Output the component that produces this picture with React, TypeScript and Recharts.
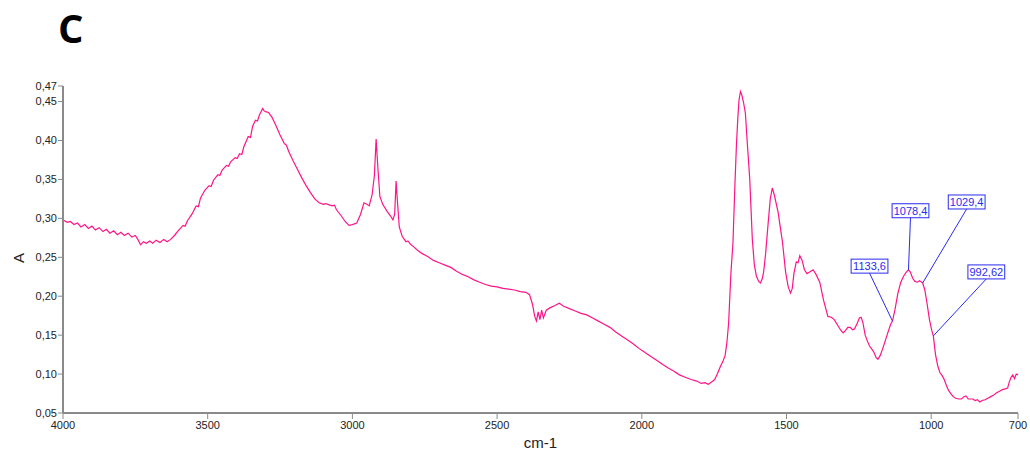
import React from "react";
import {
  LineChart, Line, XAxis, YAxis, ReferenceDot,
} from "recharts";

const WAVENUMBERS = [
  4000, 3985, 3975, 3962, 3950, 3938, 3925, 3912, 3900, 3888, 3875, 3862, 3850, 3838, 3825, 3812,
  3800, 3788, 3775, 3762, 3750, 3740, 3732, 3722, 3712, 3700, 3690, 3678, 3665, 3652, 3640, 3628,
  3615, 3600, 3585, 3578, 3570, 3555, 3540, 3532, 3525, 3510, 3495, 3488, 3480, 3465, 3458, 3450,
  3435, 3428, 3420, 3405, 3398, 3390, 3382, 3375, 3360, 3352, 3345, 3335, 3328, 3322, 3310, 3305,
  3300, 3290, 3284, 3278, 3265, 3250, 3235, 3228, 3220, 3205, 3190, 3175, 3160, 3145, 3130, 3115,
  3100, 3092, 3085, 3070, 3062, 3055, 3040, 3025, 3012, 3000, 2985, 2972, 2960, 2950, 2942, 2932,
  2924, 2918, 2912, 2905, 2895, 2880, 2868, 2860, 2854, 2849, 2845, 2838, 2828, 2815, 2808, 2800,
  2790, 2775, 2760, 2740, 2720, 2700, 2680, 2660, 2640, 2620, 2600, 2580, 2560, 2540, 2520, 2500,
  2480, 2460, 2440, 2420, 2400, 2388, 2378, 2370, 2364, 2358, 2352, 2346, 2340, 2330, 2318, 2300,
  2285, 2270, 2250, 2230, 2210, 2190, 2170, 2150, 2130, 2110, 2090, 2070, 2050, 2030, 2010, 1990,
  1970, 1950, 1930, 1910, 1890, 1870, 1850, 1830, 1810, 1795, 1782, 1770, 1758, 1748, 1738, 1728,
  1720, 1712, 1706, 1700, 1692, 1685, 1678, 1673, 1668, 1664, 1659, 1654, 1648, 1642, 1636, 1627,
  1618, 1611, 1604, 1596, 1590, 1584, 1579, 1572, 1564, 1556, 1549, 1542, 1529, 1522, 1514, 1503,
  1494, 1486, 1480, 1474, 1466, 1460, 1454, 1446, 1438, 1429, 1420, 1408, 1398, 1385, 1372, 1357,
  1345, 1335, 1322, 1312, 1304, 1296, 1288, 1280, 1272, 1265, 1256, 1248, 1242, 1236, 1228, 1220,
  1213, 1205, 1198, 1190, 1184, 1176, 1168, 1161, 1150, 1140, 1133.6, 1125, 1115, 1105, 1095, 1086,
  1078.4, 1072, 1064, 1056, 1048, 1040, 1029.4, 1022, 1014, 1006, 998, 992.62, 985, 977, 970, 962,
  955, 947, 940, 932, 924, 915, 905, 895, 887, 880, 872, 864, 856, 848, 840, 832,
  824, 814, 804, 794, 784, 774, 764, 754, 744, 736, 730, 724, 718, 712, 706, 700,
];

// absorbance at each wavenumber above
const ABSORBANCE = [
  0.298, 0.295, 0.296, 0.292, 0.294, 0.289, 0.292, 0.287, 0.290, 0.285, 0.288, 0.283, 0.286, 0.281, 0.284, 0.279,
  0.282, 0.278, 0.281, 0.276, 0.278, 0.272, 0.266, 0.270, 0.268, 0.271, 0.268, 0.272, 0.269, 0.273, 0.270, 0.273,
  0.278, 0.285, 0.291, 0.290, 0.297, 0.305, 0.316, 0.315, 0.326, 0.336, 0.342, 0.341, 0.349, 0.356, 0.355, 0.362,
  0.368, 0.367, 0.373, 0.378, 0.377, 0.383, 0.382, 0.392, 0.405, 0.404, 0.418, 0.426, 0.425, 0.432, 0.441, 0.438,
  0.437, 0.436, 0.433, 0.430, 0.420, 0.407, 0.396, 0.394, 0.386, 0.374, 0.363, 0.352, 0.342, 0.333, 0.325, 0.320,
  0.318, 0.319, 0.318, 0.316, 0.317, 0.311, 0.304, 0.296, 0.291, 0.292, 0.294, 0.305, 0.320, 0.318, 0.316, 0.330,
  0.355, 0.402, 0.365, 0.328, 0.318, 0.309, 0.303, 0.298, 0.305, 0.348, 0.325, 0.289, 0.277, 0.270, 0.271, 0.267,
  0.264, 0.259, 0.255, 0.251, 0.246, 0.243, 0.240, 0.237, 0.232, 0.228, 0.225, 0.221, 0.218, 0.215, 0.213, 0.212,
  0.210, 0.209, 0.208, 0.206, 0.205, 0.202, 0.190, 0.174, 0.168, 0.180, 0.170, 0.182, 0.172, 0.182, 0.185, 0.188,
  0.191, 0.187, 0.184, 0.181, 0.178, 0.176, 0.172, 0.168, 0.164, 0.160, 0.154, 0.149, 0.144, 0.139, 0.133, 0.128,
  0.123, 0.118, 0.113, 0.108, 0.104, 0.099, 0.096, 0.093, 0.091, 0.088, 0.089, 0.087, 0.090, 0.093, 0.101, 0.110,
  0.116, 0.124, 0.140, 0.165, 0.230, 0.268, 0.345, 0.394, 0.430, 0.452, 0.463, 0.458, 0.448, 0.435, 0.400, 0.351,
  0.273, 0.240, 0.226, 0.219, 0.217, 0.222, 0.231, 0.255, 0.291, 0.325, 0.339, 0.330, 0.308, 0.290, 0.270, 0.231,
  0.212, 0.204, 0.210, 0.230, 0.244, 0.243, 0.252, 0.246, 0.234, 0.229, 0.231, 0.234, 0.228, 0.218, 0.195, 0.174,
  0.173, 0.170, 0.162, 0.156, 0.153, 0.156, 0.160, 0.160, 0.157, 0.158, 0.165, 0.172, 0.173, 0.166, 0.150, 0.142,
  0.136, 0.132, 0.128, 0.121, 0.119, 0.124, 0.132, 0.140, 0.153, 0.164, 0.168, 0.183, 0.204, 0.218, 0.226, 0.231,
  0.234, 0.231, 0.223, 0.219, 0.218, 0.220, 0.217, 0.208, 0.190, 0.170, 0.156, 0.149, 0.125, 0.110, 0.102, 0.098,
  0.093, 0.085, 0.079, 0.075, 0.071, 0.069, 0.068, 0.068, 0.071, 0.072, 0.068, 0.068, 0.068, 0.066, 0.067, 0.064,
  0.066, 0.067, 0.069, 0.071, 0.073, 0.076, 0.078, 0.080, 0.081, 0.082, 0.090, 0.096, 0.099, 0.094, 0.100, 0.099,
];

const X_TICKS = [4000, 3500, 3000, 2500, 2000, 1500, 1000, 700];
const Y_TICKS = [0.05, 0.1, 0.15, 0.2, 0.25, 0.3, 0.35, 0.4, 0.45, 0.47];

// marked peaks
const PEAK_LABELS = ["1133,6", "1078,4", "1029,4", "992,62"];
const PEAK_WAVENUMBERS = [1133.6, 1078.4, 1029.4, 992.62];
const PEAK_ABSORBANCE = [0.168, 0.234, 0.217, 0.149];
// where each label box sits relative to its point (px)
const LABEL_OFFSETS = [
  { dx: -23, dy: -48 },
  { dx: 2, dy: -52 },
  { dx: 44, dy: -74 },
  { dx: 53, dy: -57 },
];

const data = WAVENUMBERS.map((w, i) => ({ w, a: ABSORBANCE[i] }));

const FONT = "'Liberation Sans', Arial, sans-serif";
const AXIS = "#8a8a8a";
const CURVE = "#ff1488";
const BLUE = "#2a2af0";

const fmtComma = (v: number) => v.toFixed(2).replace(".", ",");

function PeakLabel(label: string, dx: number, dy: number) {
  return (props: any) => {
    const { cx, cy } = props;
    const bx = cx + dx;
    const by = cy + dy;
    const w = label.length * 5.8 + 2;
    return (
      <g>
        <line x1={cx} y1={cy} x2={bx} y2={by} stroke={BLUE} strokeWidth={1} />
        <rect x={bx - w / 2} y={by - 14} width={w} height={14} fill="#fff" stroke={BLUE} strokeWidth={1} />
        <text x={bx} y={by - 3} textAnchor="middle" fontSize={11} fontFamily={FONT} fill={BLUE}>
          {label}
        </text>
      </g>
    );
  };
}

export default function App() {
  return (
    <div style={{ position: "absolute", left: 0, top: 0, width: 1030, height: 450, background: "#fff" }}>
      <div
        style={{
          position: "absolute", left: 58, top: 3, fontFamily: "'Open Sans', sans-serif",
          fontWeight: 700, fontSize: 40, lineHeight: "50px", color: "#000",
        }}
      >
        C
      </div>
      <LineChart width={1030} height={450} data={data} margin={{ top: 86, right: 12, bottom: 0, left: 8 }}>
        <XAxis
          dataKey="w"
          type="number"
          domain={[700, 4000]}
          reversed
          ticks={X_TICKS}
          interval={0}
          height={37}
          tickSize={6}
          tickMargin={2}
          axisLine={{ stroke: AXIS, strokeWidth: 2 }}
          tickLine={{ stroke: AXIS }}
          tick={{ fontSize: 11, fill: "#222", fontFamily: FONT }}
          label={{ value: "cm-1", position: "insideBottom", offset: 2, fontSize: 15, fill: "#222", fontFamily: FONT }}
        />
        <YAxis
          type="number"
          domain={[0.05, 0.47]}
          ticks={Y_TICKS}
          interval={0}
          width={55}
          tickSize={5}
          tickMargin={1}
          tickFormatter={fmtComma}
          axisLine={{ stroke: AXIS, strokeWidth: 2 }}
          tickLine={{ stroke: AXIS }}
          tick={{ fontSize: 11, fill: "#222", fontFamily: FONT }}
          label={{
            content: () => (
              <text x={24} y={258} transform="rotate(-90 24 258)" textAnchor="middle" fontSize={15} fill="#222" fontFamily={FONT}>
                A
              </text>
            ),
          }}
        />
        <Line
          type="linear"
          dataKey="a"
          stroke={CURVE}
          strokeWidth={1.2}
          dot={false}
          isAnimationActive={false}
        />
        {PEAK_WAVENUMBERS.map((w, i) => (
          <ReferenceDot
            key={w}
            x={w}
            y={PEAK_ABSORBANCE[i]}
            r={1}
            shape={PeakLabel(PEAK_LABELS[i], LABEL_OFFSETS[i].dx, LABEL_OFFSETS[i].dy)}
          />
        ))}
      </LineChart>
    </div>
  );
}
